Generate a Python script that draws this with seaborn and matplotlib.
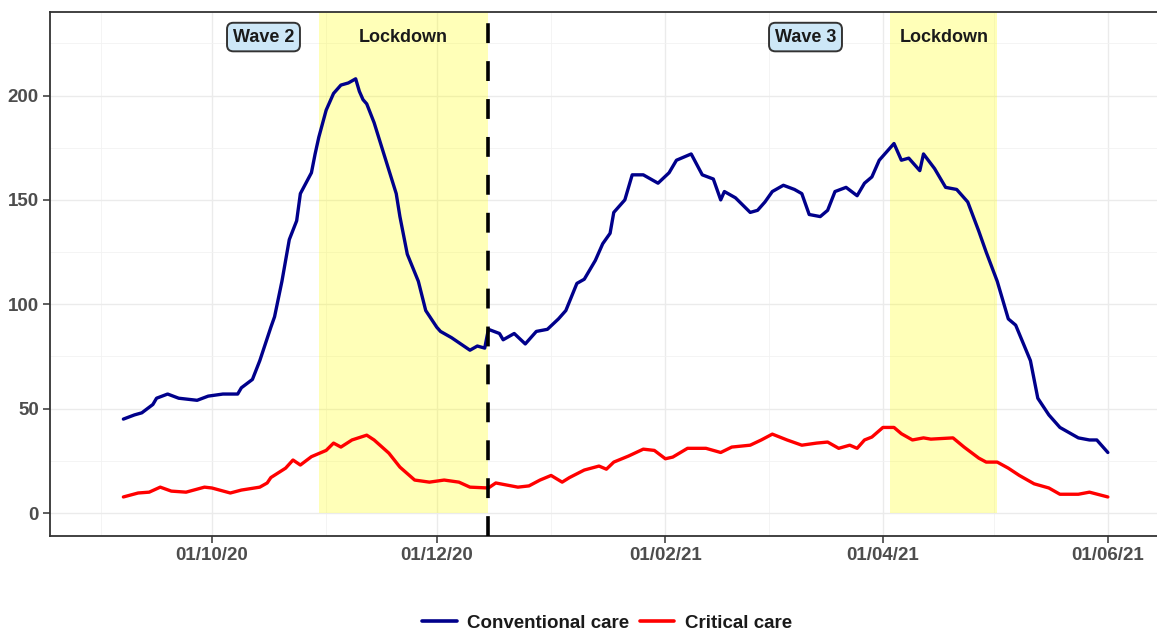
import matplotlib
matplotlib.use("Agg")
import matplotlib.pyplot as plt
import matplotlib.dates as mdates
from matplotlib.patches import Rectangle
from matplotlib.ticker import MultipleLocator
import seaborn as sns
import pandas as pd

# ---------------- data ----------------
series_names = ["Conventional care", "Critical care"]

conv_dates = [
    "2020-09-07", "2020-09-10", "2020-09-12", "2020-09-15", "2020-09-16", "2020-09-19",
    "2020-09-22", "2020-09-27", "2020-09-30", "2020-10-04", "2020-10-08", "2020-10-09",
    "2020-10-12", "2020-10-14", "2020-10-17", "2020-10-18", "2020-10-20", "2020-10-22",
    "2020-10-24", "2020-10-25", "2020-10-28", "2020-10-29", "2020-10-30", "2020-11-01",
    "2020-11-03", "2020-11-05", "2020-11-07", "2020-11-09", "2020-11-10", "2020-11-11",
    "2020-11-12", "2020-11-14", "2020-11-17", "2020-11-20", "2020-11-21", "2020-11-23",
    "2020-11-26", "2020-11-28", "2020-12-01", "2020-12-02", "2020-12-05", "2020-12-10",
    "2020-12-12", "2020-12-14", "2020-12-15", "2020-12-18", "2020-12-19", "2020-12-22",
    "2020-12-25", "2020-12-28", "2020-12-31", "2021-01-03", "2021-01-05", "2021-01-08",
    "2021-01-10", "2021-01-13", "2021-01-15", "2021-01-17", "2021-01-18", "2021-01-21",
    "2021-01-23", "2021-01-26", "2021-01-30", "2021-02-02", "2021-02-04", "2021-02-08",
    "2021-02-11", "2021-02-14", "2021-02-16", "2021-02-17", "2021-02-20", "2021-02-24",
    "2021-02-26", "2021-02-28", "2021-03-02", "2021-03-05", "2021-03-08", "2021-03-10",
    "2021-03-12", "2021-03-15", "2021-03-17", "2021-03-19", "2021-03-22", "2021-03-25",
    "2021-03-27", "2021-03-29", "2021-03-31", "2021-04-04", "2021-04-06", "2021-04-08",
    "2021-04-11", "2021-04-12", "2021-04-15", "2021-04-18", "2021-04-21", "2021-04-24",
    "2021-04-27", "2021-04-29", "2021-05-02", "2021-05-05", "2021-05-07", "2021-05-11",
    "2021-05-13", "2021-05-16", "2021-05-19", "2021-05-21", "2021-05-24", "2021-05-27",
    "2021-05-29", "2021-06-01",
]
conv_values = [
    45, 47, 48, 52, 55, 57,
    55, 54, 56, 57, 57, 60,
    64, 73, 89, 94, 111, 131,
    140, 153, 163, 172, 180, 193,
    201, 205, 206, 208, 202, 198,
    196, 187, 170, 153, 142, 124,
    111, 97, 89, 87, 84, 78,
    80, 79, 88, 86, 83, 86,
    81, 87, 88, 93, 97, 110,
    112, 121, 129, 134, 144, 150,
    162, 162, 158, 163, 169, 172,
    162, 160, 150, 154, 151, 144,
    145, 149, 154, 157, 155, 153,
    143, 142, 145, 154, 156, 152,
    158, 161, 169, 177, 169, 170,
    164, 172, 165, 156, 155, 149,
    135, 125, 111, 93, 90, 73,
    55, 47, 41, 39, 36, 35,
    35, 29,
]

crit_dates = [
    "2020-09-07", "2020-09-11", "2020-09-14", "2020-09-17", "2020-09-20", "2020-09-24",
    "2020-09-29", "2020-10-01", "2020-10-06", "2020-10-09", "2020-10-14", "2020-10-16",
    "2020-10-17", "2020-10-21", "2020-10-23", "2020-10-25", "2020-10-28", "2020-11-01",
    "2020-11-03", "2020-11-05", "2020-11-08", "2020-11-12", "2020-11-14", "2020-11-18",
    "2020-11-21", "2020-11-25", "2020-11-29", "2020-12-03", "2020-12-07", "2020-12-10",
    "2020-12-15", "2020-12-17", "2020-12-23", "2020-12-26", "2020-12-29", "2021-01-01",
    "2021-01-04", "2021-01-06", "2021-01-10", "2021-01-14", "2021-01-16", "2021-01-18",
    "2021-01-22", "2021-01-26", "2021-01-29", "2021-02-01", "2021-02-03", "2021-02-07",
    "2021-02-12", "2021-02-16", "2021-02-19", "2021-02-24", "2021-02-27", "2021-03-02",
    "2021-03-06", "2021-03-10", "2021-03-14", "2021-03-17", "2021-03-20", "2021-03-23",
    "2021-03-25", "2021-03-27", "2021-03-29", "2021-04-01", "2021-04-04", "2021-04-06",
    "2021-04-09", "2021-04-12", "2021-04-14", "2021-04-20", "2021-04-23", "2021-04-27",
    "2021-04-29", "2021-05-02", "2021-05-05", "2021-05-08", "2021-05-12", "2021-05-16",
    "2021-05-19", "2021-05-24", "2021-05-27", "2021-06-01",
]
crit_values = [
    7.7, 9.6, 10, 12.4, 10.5, 10,
    12.4, 12, 9.6, 11, 12.4, 14.4,
    17, 21.5, 25.4, 23, 27, 30,
    33.5, 31.6, 35, 37.3, 35, 28.7,
    22, 15.8, 14.8, 15.8, 14.8, 12.4,
    12, 14.4, 12.4, 13, 15.8, 18,
    14.8, 17, 20.6, 22.5, 21, 24.4,
    27.3, 30.6, 30, 26, 26.8, 31,
    31, 29, 31.6, 32.5, 35, 37.8,
    35, 32.5, 33.5, 34, 31, 32.5,
    31, 35, 36.4, 41, 41, 38,
    35, 36, 35.4, 36, 31.6, 26.3,
    24.4, 24.4, 21.5, 18, 14, 12,
    9, 9, 10, 7.7,
]

tick_dates = ["2020-10-01", "2020-12-01", "2021-02-01", "2021-04-01", "2021-06-01"]
tick_labels = ["01/10/20", "01/12/20", "01/02/21", "01/04/21", "01/06/21"]
minor_tick_dates = ["2020-09-01", "2020-11-01", "2021-01-01", "2021-03-01", "2021-05-01"]

lockdown_starts = ["2020-10-30", "2021-04-03"]
lockdown_ends = ["2020-12-15", "2021-05-02"]
lockdown_label = "Lockdown"
wave_labels = ["Wave 2", "Wave 3"]
wave_label_dates = ["2020-10-15", "2021-03-11"]
divider_date = "2020-12-15"
label_y = 228

# ---------------- build long table ----------------
df = pd.concat([
    pd.DataFrame({"date": pd.to_datetime(conv_dates), "value": conv_values,
                  "type": series_names[0]}),
    pd.DataFrame({"date": pd.to_datetime(crit_dates), "value": crit_values,
                  "type": series_names[1]}),
], ignore_index=True)

# ---------------- style ----------------
sns.set_theme(style="white")
plt.rcParams["font.family"] = ["Liberation Sans", "DejaVu Sans"]
plt.rcParams["font.weight"] = "bold"

W, H = 1157, 636
fig = plt.figure(figsize=(W / 100, H / 100), dpi=100)
ax = fig.add_axes([50 / W, 1 - 536 / H, (1158 - 50) / W, (536 - 12) / H])

palette = {series_names[0]: "#00008B", series_names[1]: "#FF0000"}
sns.lineplot(data=df, x="date", y="value", hue="type", palette=palette,
             hue_order=series_names, linewidth=2.4, ax=ax, zorder=4)

# shaded lockdown periods
for s, e in zip(lockdown_starts, lockdown_ends):
    x0 = mdates.date2num(pd.Timestamp(s))
    x1 = mdates.date2num(pd.Timestamp(e))
    ax.add_patch(Rectangle((x0, 0), x1 - x0, 400, facecolor="yellow",
                           alpha=0.28, edgecolor="none", zorder=2))
    ax.text(pd.Timestamp(s) + (pd.Timestamp(e) - pd.Timestamp(s)) / 2, label_y,
            lockdown_label, ha="center", va="center", fontsize=13,
            fontweight="bold", color="#1a1a1a", zorder=6)

for lab, d in zip(wave_labels, wave_label_dates):
    ax.text(pd.Timestamp(d), label_y, lab, ha="center", va="center", fontsize=13,
            fontweight="bold", color="#1a1a1a", zorder=6,
            bbox=dict(boxstyle="round,pad=0.32,rounding_size=0.35",
                      fc="#CDE7F7", ec="#333333", lw=1.4))

ax.axvline(pd.Timestamp(divider_date), color="black", linewidth=2.6,
           linestyle=(0, (5.5, 5.0)), dash_capstyle="butt", zorder=7)

# axes limits / ticks
x_left = pd.Timestamp("2020-10-01") - pd.Timedelta(days=43.9)
x_right = pd.Timestamp("2020-10-01") + pd.Timedelta(days=256.6)
ax.set_xlim(x_left, x_right)
ax.set_ylim(-11, 240)
ax.set_xticks(pd.to_datetime(tick_dates))
ax.set_xticklabels(tick_labels)
ax.set_xticks(pd.to_datetime(minor_tick_dates), minor=True)
ax.yaxis.set_major_locator(MultipleLocator(50))
ax.yaxis.set_minor_locator(MultipleLocator(25))

ax.grid(True, which="major", color="#EBEBEB", linewidth=1.0, zorder=0)
ax.grid(True, which="minor", color="#F2F2F2", linewidth=0.6, zorder=0)
ax.set_axisbelow(True)

ax.tick_params(axis="both", which="major", direction="out", length=5, width=1.1,
               color="#333333", labelsize=13.5, labelcolor="#4D4D4D", pad=3,
               bottom=True, left=True)
ax.tick_params(axis="both", which="minor", length=0)
for lbl in ax.get_xticklabels() + ax.get_yticklabels():
    lbl.set_fontweight("bold")

for sp in ax.spines.values():
    sp.set_color("#333333")
    sp.set_linewidth(1.3)

ax.set_xlabel("")
ax.set_ylabel("")

# legend at bottom
handles, labels = ax.get_legend_handles_labels()
ax.get_legend().remove()
for h in handles:
    h.set_linewidth(2.6)
leg = fig.legend(handles, labels, loc="center", bbox_to_anchor=(607 / W, 1 - 623 / H),
                 ncol=2, frameon=False, fontsize=13.5, handlelength=1.85,
                 handletextpad=0.55, columnspacing=0.55)
for t in leg.get_texts():
    t.set_fontweight("bold")
    t.set_color("#1a1a1a")

fig.savefig("out.png", dpi=100)
